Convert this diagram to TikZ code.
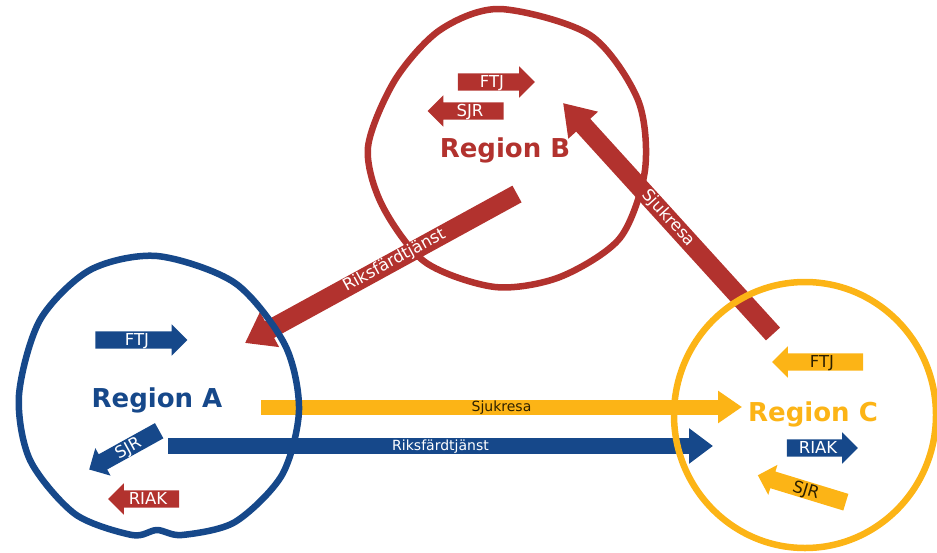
\documentclass[tikz,border=0pt]{standalone}
\usepackage{fontspec}
\setmainfont{DejaVu Sans}
\usetikzlibrary{shapes.arrows,arrows.meta}
\definecolor{regred}{RGB}{178,50,46}
\definecolor{regblue}{RGB}{22,72,138}
\definecolor{regorange}{RGB}{252,180,22}
\definecolor{darktext}{RGB}{45,32,0}
\tikzset{x=1pt, y=-1pt, font=\fontsize{14}{14}\selectfont}
\tikzstyle{region} = [line width=6.5pt, line join=round]
\tikzstyle{title} = [font=\fontsize{26}{26}\selectfont\bfseries, anchor=base, inner sep=0pt]
\tikzstyle{tag} = [single arrow, single arrow head extend=7pt, inner xsep=3pt, inner ysep=1.5pt, text height=12.5pt, text depth=1.5pt, font=\fontsize{16.5}{16.5}\selectfont, anchor=center]
\tikzstyle{flow} = [line width=17pt]
\tikzstyle{flowtext} = [sloped, inner sep=0pt, text height=10pt, text depth=2pt]
\tikzstyle{bigflowtext} = [flowtext, font=\fontsize{16.5}{16.5}\selectfont, text=white]

\begin{document}
\begin{tikzpicture}
    \useasboundingbox (0,0) rectangle (937,552);
    \clip (0,0) rectangle (937,552);

    % long flows between the regions
    \coordinate (rikB) at (517,194);
    \coordinate (rikA) at (245,343);
    \coordinate (sjuC) at (773,334);
    \coordinate (sjuB) at (563,103);
    \coordinate (sjuA) at (261,407);
    \coordinate (sjuCin) at (742,407);
    \coordinate (rikAout) at (168,446);
    \coordinate (rikCin) at (713,446);

    \draw [flow, line width=19pt, regred, -{Triangle[width=38pt,length=28pt]}] (rikB) -- (rikA);
    \draw [flow, line width=19pt, regred, -{Triangle[width=38pt,length=30pt]}] (sjuC) -- (sjuB);
    \draw [flow, line width=15pt, regorange, -{Triangle[width=31pt,length=24pt]}] (sjuA) -- (sjuCin);
    \draw [flow, line width=16pt, regblue, -{Triangle[width=34pt,length=24pt]}] (rikAout) -- (rikCin);

    % region outlines
    \draw [region, regred] plot [smooth cycle] coordinates {(500,9) (590,35) (638,100) (645,170) (620,238) (560,277) (495,287) (425,262) (382,205) (368,147) (395,80) (440,30)};
    \draw [region, regblue] plot [smooth cycle] coordinates {(157,256) (235,283) (285,345) (299,410) (282,475) (235,522) (182,535) (157,530) (132,535) (75,514) (30,460) (19,395) (40,320) (90,270)};
    \draw [region, regorange] (805,415) ellipse [x radius=131, y radius=133];

    % flow labels
    \path (rikB) -- node [bigflowtext, pos=0.45] {Riksfärdtjänst} (rikA);
    \path (sjuC) -- node [bigflowtext, pos=0.5] {Sjukresa} (sjuB);
    \path (sjuA) -- node [flowtext, text=darktext] {Sjukresa} (sjuCin);
    \path (rikAout) -- node [flowtext, text=white] {Riksfärdtjänst} (rikCin);

    % region names
    \node [title, regblue] (regA) at (157,407) {Region A};
    \node [title, regred] (regB) at (505,157) {Region B};
    \node [title, regorange] (regC) at (813,421) {Region C};

    % local flows inside the regions
    \node [tag, fill=regred, text=white, minimum height=77pt] (ftjB) at (492,82) {FTJ};
    \node [tag, fill=regred, text=white, minimum height=76pt, shape border rotate=180] (sjrB) at (470,111) {SJR};
    \node [tag, fill=regblue, text=white, minimum height=92pt] (ftjA) at (137,340) {FTJ};
    \node [tag, fill=regblue, text=white, minimum height=80pt, shape border rotate=180, rotate=29] (sjrA) at (128,448) {SJR};
    \node [tag, fill=regred, text=white, minimum height=71pt, shape border rotate=180] (riakA) at (148,499) {RIAK};
    \node [tag, fill=regorange, text=darktext, minimum height=91pt, shape border rotate=180] (ftjC) at (822,362) {FTJ};
    \node [tag, fill=regblue, text=white, minimum height=71pt] (riakC) at (818,448) {RIAK};
    \node [tag, fill=regorange, text=darktext, minimum height=92pt, shape border rotate=180, rotate=-17] (sjrC) at (806,490) {SJR};
\end{tikzpicture}
\end{document}
